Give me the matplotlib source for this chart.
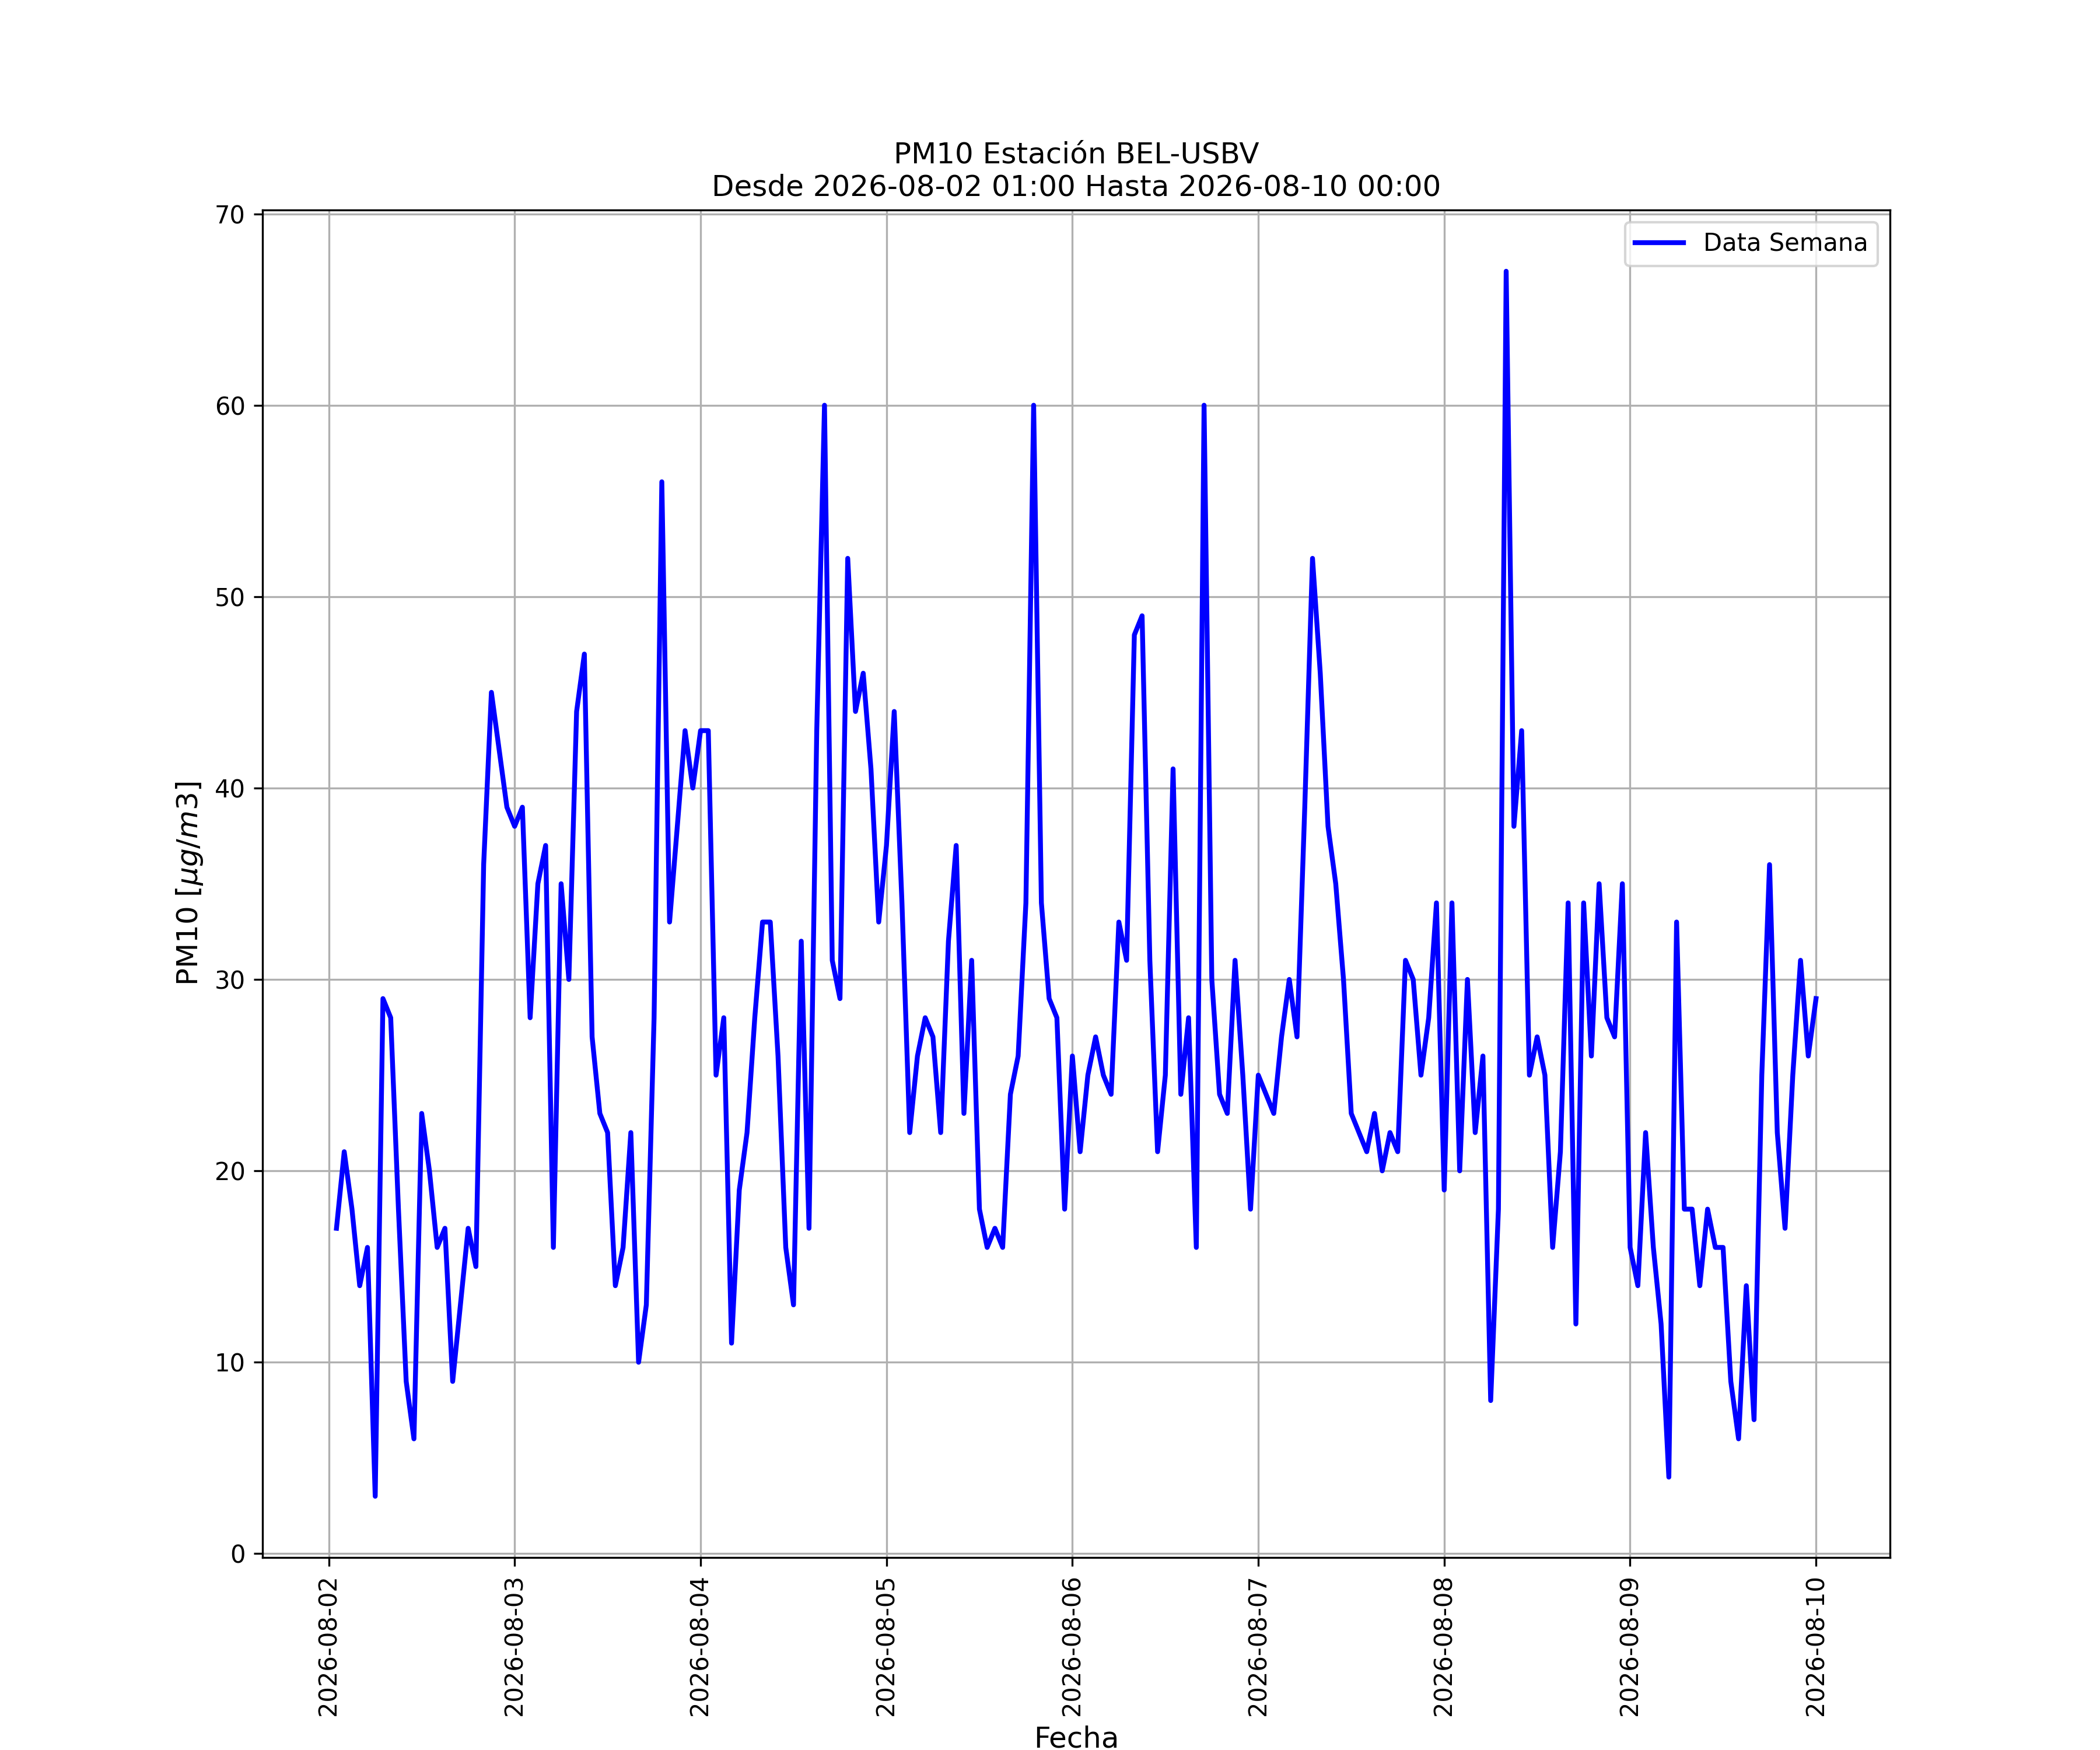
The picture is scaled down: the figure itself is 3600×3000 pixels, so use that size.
import numpy as np
import pandas as pd
import matplotlib
matplotlib.use('Agg')
import matplotlib.pyplot as plt
import matplotlib.dates as mdates

# valores horarios de PM10, un bloque por día (01:00 ... 00:00)
dia_1 = [17, 21, 18, 14, 16, 3, 29, 28, 18, 9, 6, 23, 20, 16, 17, 9, 13, 17, 15, 36, 45, 42, 39, 38]
dia_2 = [39, 28, 35, 37, 16, 35, 30, 44, 47, 27, 23, 22, 14, 16, 22, 10, 13, 28, 56, 33, 38, 43, 40, 43]
dia_3 = [43, 25, 28, 11, 19, 22, 28, 33, 33, 26, 16, 13, 32, 17, 43, 60, 31, 29, 52, 44, 46, 41, 33, 37]
dia_4 = [44, 34, 22, 26, 28, 27, 22, 32, 37, 23, 31, 18, 16, 17, 16, 24, 26, 34, 60, 34, 29, 28, 18, 26]
dia_5 = [21, 25, 27, 25, 24, 33, 31, 48, 49, 31, 21, 25, 41, 24, 28, 16, 60, 30, 24, 23, 31, 25, 18, 25]
dia_6 = [24, 23, 27, 30, 27, 39, 52, 46, 38, 35, 30, 23, 22, 21, 23, 20, 22, 21, 31, 30, 25, 28, 34, 19]
dia_7 = [34, 20, 30, 22, 26, 8, 18, 67, 38, 43, 25, 27, 25, 16, 21, 34, 12, 34, 26, 35, 28, 27, 35, 16]
dia_8 = [14, 22, 16, 12, 4, 33, 18, 18, 14, 18, 16, 16, 9, 6, 14, 7, 25, 36, 22, 17, 25, 31, 26, 29]

inicio = '2026-08-02 01:00'
fin = '2026-08-10 00:00'

pm10 = dia_1 + dia_2 + dia_3 + dia_4 + dia_5 + dia_6 + dia_7 + dia_8
fechas = pd.date_range(inicio, fin, freq='h')

fig, ax = plt.subplots(figsize=(12, 10), dpi=300)
ax.plot(fechas, pm10, color='blue', linewidth=2, label='Data Semana')
ax.set_title('PM10 Estación BEL-USBV\nDesde ' + inicio + ' Hasta ' + fin, fontsize=12)
ax.set_xlabel('Fecha', fontsize=12)
ax.set_ylabel(r'PM10 [$\mu g/m3$]', fontsize=12)
ax.xaxis.set_major_locator(mdates.DayLocator())
ax.xaxis.set_major_formatter(mdates.DateFormatter('%Y-%m-%d'))
plt.setp(ax.get_xticklabels(), rotation=90)
ax.grid(True)
ax.legend(loc='upper right')
fig.savefig('out.png', dpi=300)
